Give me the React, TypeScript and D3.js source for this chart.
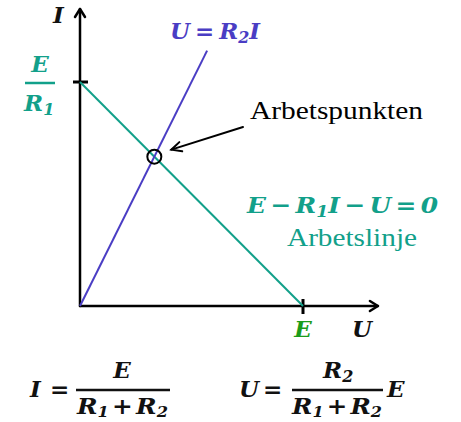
import React from "react";
import * as d3 from "d3";

// Circuit parameters (normalised units)
const E = 1;
const R1 = 1;
const R2 = 0.5;

// Axis extents in data units
const uAxisMax = [1.336];
const iAxisMax = [1.326];

// Arbetslinje: E - R1*I - U = 0, drawn between its two intercepts
const workLineU = [0, 1];
const workLineI = [1, 0];

// Load line U = R2*I
const loadLineU = [0, 0.57];
const loadLineI = [0, 1.14];

const W = 461;
const H = 422;

const TEAL = "#12a08a";
const BLUE = "#4a3dc4";
const GREEN = "#1a9c1a";
const MATH = "'DejaVu Serif', serif";
const TEXT = "'Liberation Serif', serif";

export default function App() {
  const x = d3.scaleLinear().domain([0, E]).range([80, 303]);
  const y = d3.scaleLinear().domain([0, E / R1]).range([306, 82]);

  const line = d3
    .line<[number, number]>()
    .x((d) => x(d[0]))
    .y((d) => y(d[1]));

  const work: [number, number][] = workLineU.map((u, k) => [u * E, workLineI[k] * (E / R1)]);
  const load: [number, number][] = loadLineU.map((u, k) => [u, loadLineI[k]]);

  // Operating point
  const Iop = E / (R1 + R2);
  const Uop = (R2 / (R1 + R2)) * E;
  const px = x(Uop);
  const py = y(Iop);

  const x0 = x(0);
  const y0 = y(0);
  const xEnd = x(uAxisMax[0]);
  const yEnd = y(iAxisMax[0]);

  const mathStyle = { fontFamily: MATH, fontWeight: 700, fontStyle: "italic" as const };

  // annotation arrow
  const ax1 = 243, ay1 = 127;
  const ax2 = px + 17, ay2 = py - 7;
  const ang = Math.atan2(ay2 - ay1, ax2 - ax1);
  const head = 11, spread = 0.45;
  const hA = [ax2 - head * Math.cos(ang - spread), ay2 - head * Math.sin(ang - spread)];
  const hB = [ax2 - head * Math.cos(ang + spread), ay2 - head * Math.sin(ang + spread)];

  return (
    <svg width={W} height={H} style={{ position: "absolute", left: 0, top: 0, background: "#fff" }}>
      {/* axes */}
      <g stroke="#000" strokeWidth={2.5} fill="none" strokeLinecap="round" strokeLinejoin="round">
        <line x1={x0} y1={y0} x2={x0} y2={yEnd} />
        <line x1={x0} y1={y0} x2={xEnd} y2={y0} />
        <polyline points={`${x0 - 5},${yEnd + 8} ${x0},${yEnd} ${x0 + 5},${yEnd + 8}`} />
        <polyline points={`${xEnd - 8},${y0 - 5} ${xEnd},${y0} ${xEnd - 8},${y0 + 5}`} />
      </g>
      {/* ticks */}
      <g stroke="#000" strokeWidth={3}>
        <line x1={x0 - 7} x2={x0 + 8} y1={y(E / R1)} y2={y(E / R1)} />
        <line x1={x(E)} x2={x(E)} y1={y0 - 7} y2={y0 + 8} />
      </g>

      {/* lines */}
      <path d={line(work) ?? ""} stroke={TEAL} strokeWidth={2} fill="none" />
      <path d={line(load) ?? ""} stroke={BLUE} strokeWidth={2} fill="none" />

      {/* operating point */}
      <circle cx={px} cy={py} r={7} fill="none" stroke="#000" strokeWidth={2} />

      {/* annotation */}
      <g stroke="#000" strokeWidth={2} fill="none" strokeLinecap="round">
        <line x1={ax1} y1={ay1} x2={ax2} y2={ay2} />
        <polyline points={`${hA[0]},${hA[1]} ${ax2},${ay2} ${hB[0]},${hB[1]}`} />
      </g>
      <text x={250} y={119} fontFamily={TEXT} fontSize={25} fill="#000" textLength={173} lengthAdjust="spacingAndGlyphs">
        Arbetspunkten
      </text>

      {/* axis labels */}
      <text x={53} y={23} {...mathStyle} fontSize={23} fill="#111">I</text>
      <text x={x(E)} y={337} {...mathStyle} fontSize={23} fill={GREEN} textAnchor="middle">E</text>
      <text x={352} y={337} {...mathStyle} fontSize={23} fill="#111">U</text>

      {/* E / R1 */}
      <g fill={TEAL} {...mathStyle} fontSize={23}>
        <text x={40} y={72} textAnchor="middle">E</text>
        <line x1={25} x2={55} y1={83} y2={83} stroke={TEAL} strokeWidth={2.5} />
        <text x={24} y={111}>
          R<tspan fontSize={16} dy={4}>1</tspan>
        </text>
      </g>

      {/* U = R2 I */}
      <text x={170} y={39} {...mathStyle} fontSize={23} fill={BLUE} textLength={90} lengthAdjust="spacingAndGlyphs">
        U<tspan dx={5}>=</tspan>
        <tspan dx={5}>R</tspan>
        <tspan fontSize={16} dy={4}>2</tspan>
        <tspan dy={-4}>I</tspan>
      </text>

      {/* E - R1 I - U = 0 */}
      <text x={247} y={213} {...mathStyle} fontSize={23} fill={TEAL} textLength={191} lengthAdjust="spacingAndGlyphs">
        E<tspan dx={4}>−</tspan>
        <tspan dx={4}>R</tspan>
        <tspan fontSize={16} dy={4}>1</tspan>
        <tspan dy={-4}>I</tspan>
        <tspan dx={4}>−</tspan>
        <tspan dx={4}>U</tspan>
        <tspan dx={4}>=</tspan>
        <tspan dx={4}>0</tspan>
      </text>
      <text x={352} y={246} fontFamily={TEXT} fontSize={25} fill={TEAL} textAnchor="middle" textLength={130} lengthAdjust="spacingAndGlyphs">
        Arbetslinje
      </text>

      {/* I = E / (R1 + R2) */}
      <g {...mathStyle} fontSize={23} fill="#111">
        <text x={30} y={397}>I</text>
        <text x={50} y={397}>=</text>
        <text x={122} y={378} textAnchor="middle">E</text>
        <line x1={76} x2={170} y1={390} y2={390} stroke="#111" strokeWidth={2.5} />
        <text x={77} y={414} textLength={91} lengthAdjust="spacingAndGlyphs">
          R<tspan fontSize={15} dy={3}>1</tspan>
          <tspan dy={-3} dx={3}>+</tspan>
          <tspan dx={3}>R</tspan>
          <tspan fontSize={15} dy={3}>2</tspan>
        </text>
      </g>

      {/* U = R2 / (R1 + R2) E */}
      <g {...mathStyle} fontSize={23} fill="#111">
        <text x={239} y={397}>U</text>
        <text x={263} y={397}>=</text>
        <text x={323} y={378}>
          R<tspan fontSize={16} dy={4}>2</tspan>
        </text>
        <line x1={292} x2={383} y1={390} y2={390} stroke="#111" strokeWidth={2.5} />
        <text x={292} y={414} textLength={90} lengthAdjust="spacingAndGlyphs">
          R<tspan fontSize={15} dy={3}>1</tspan>
          <tspan dy={-3} dx={3}>+</tspan>
          <tspan dx={3}>R</tspan>
          <tspan fontSize={15} dy={3}>2</tspan>
        </text>
        <text x={387} y={397}>E</text>
      </g>
    </svg>
  );
}
